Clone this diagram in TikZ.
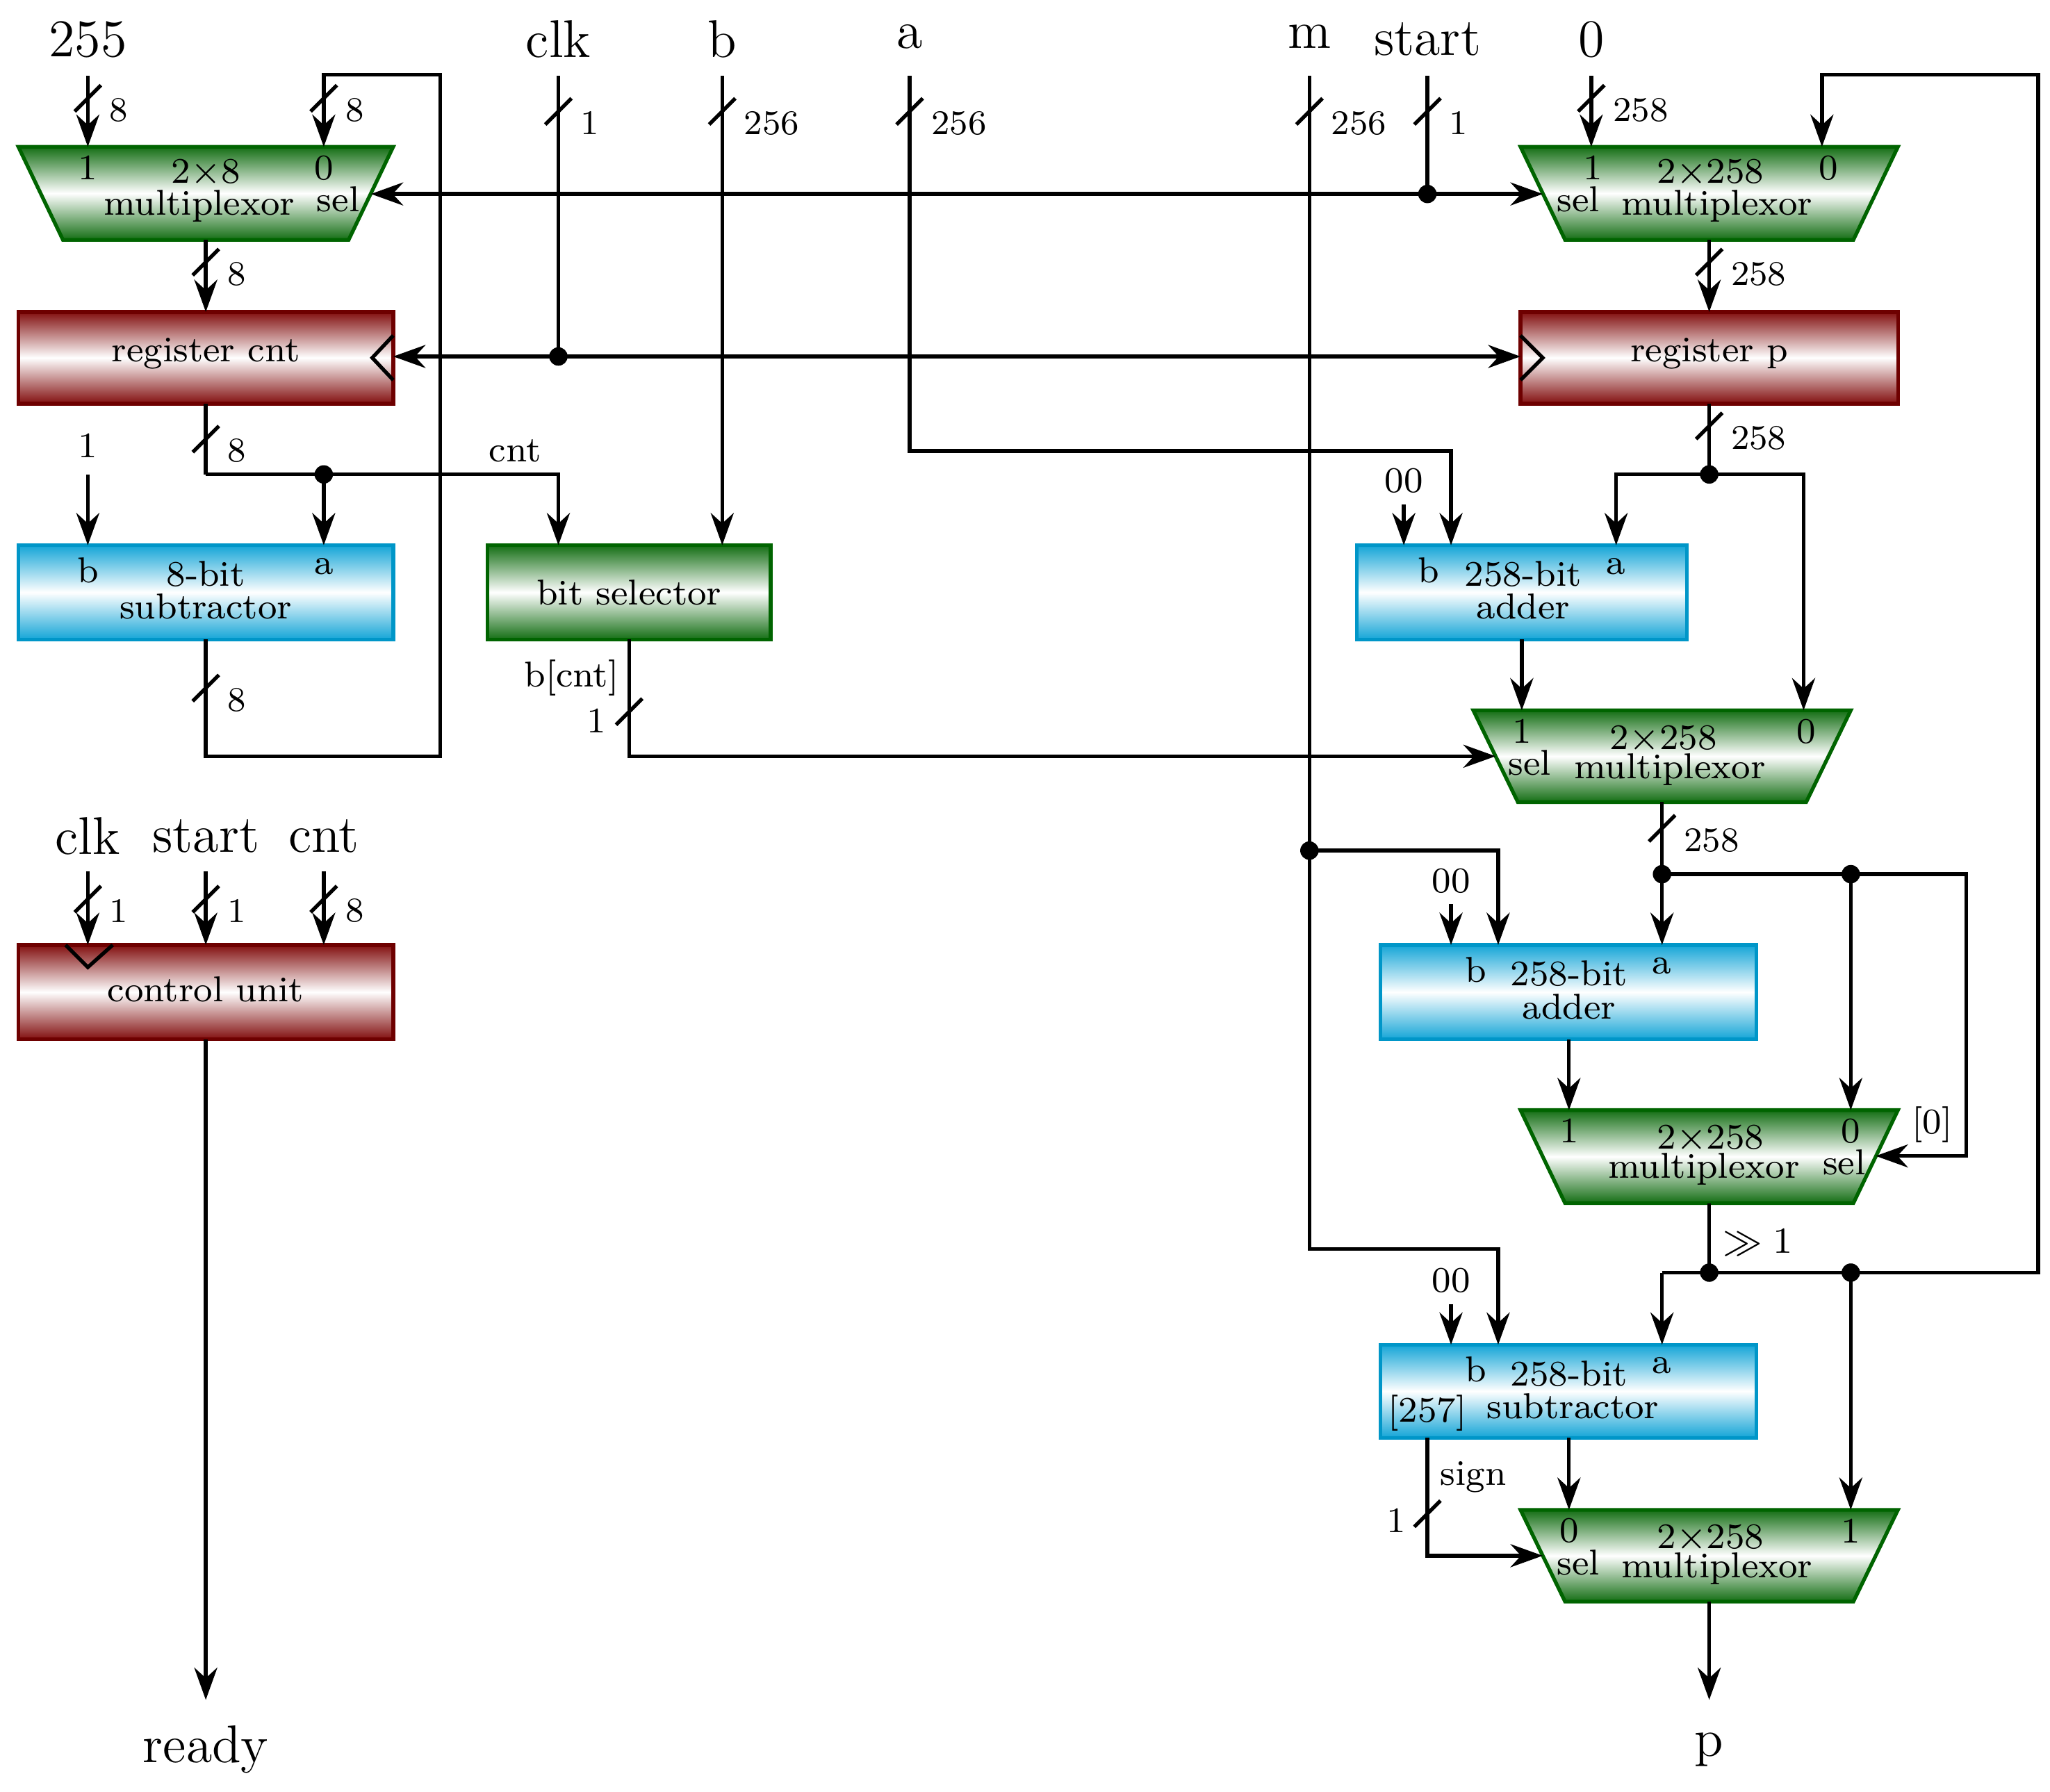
\documentclass[tikz,border=0pt]{standalone}
\usetikzlibrary{arrows.meta}
\definecolor{gdark}{RGB}{20,110,20}
\definecolor{gline}{RGB}{0,100,0}
\definecolor{rdark}{RGB}{130,15,15}
\definecolor{rline}{RGB}{110,0,0}
\definecolor{bdark}{RGB}{20,165,215}
\definecolor{bline}{RGB}{0,150,200}
\tikzset{
  wire/.style={line width=0.8pt},
  arr/.style={wire,-{Stealth[length=7pt,width=5pt]}},
  muxs/.style={draw=gline,line width=0.8pt,top color=gdark,bottom color=gdark,middle color=white},
  regs/.style={draw=rline,line width=0.8pt,top color=rdark,bottom color=rdark,middle color=white},
  alus/.style={draw=bline,line width=0.8pt,top color=bdark,bottom color=bdark,middle color=white},
  txt/.style={font=\fontsize{7.8}{8.5}\selectfont,inner sep=0pt},
  big/.style={font=\fontsize{11.5}{13}\selectfont,inner sep=0pt},
  lbl/.style={font=\fontsize{7.5}{8}\selectfont,inner sep=0pt,anchor=west},
  dot/.style={circle,fill=black,inner sep=0pt,minimum size=4pt}
}
\newcommand{\busmark}[3]{\draw[wire] (#1-10,#2+10)--(#1+10,#2-10);
  \node[lbl] at (#1+16,#2+9) {#3};}
\newcommand{\muxbox}[5]{\draw[muxs] (#2,#4)--(#3,#4)--(#3-34,#5)--(#2+34,#5)--cycle;
  \coordinate (#1) at ({(#2+#3)/2},{(#4+#5)/2});}
\begin{document}
\begin{tikzpicture}[x=0.01cm,y=-0.01cm]
\useasboundingbox (0,0) rectangle (1564,1367);
% blocks
\muxbox{muxcnt}{14}{300}{112}{183}
\node[txt] at (67,128){1}; \node[txt] at (157,132){2$\times$8}; \node[txt] at (247,128){0};
\node[txt] at (152,157){multiplexor}; \node[txt] at (258,152){sel};
\draw[regs] (14,238) rectangle (300,308); \node[txt] (regcnt) at (157,270){register cnt};
\draw[wire] (300,256)--(284,273)--(300,290);
\draw[alus] (14,416) rectangle (300,488);
\node[txt] at (67,435){b}; \node[txt] at (157,438){8-bit}; \node[txt] at (247,432){a};
\node[txt] at (157,463){subtractor};
\draw[muxs] (372,416) rectangle (588,488); \node[txt] (bitsel) at (480,452){bit selector};
\draw[regs] (14,721) rectangle (300,793); \node[txt] (cu) at (157,755){control unit};
\draw[wire] (50,721)--(67,738)--(86,721);
\muxbox{muxp}{1160}{1448}{112}{183}
\node[txt] at (1215,128){1}; \node[txt] at (1305,132){2$\times$258}; \node[txt] at (1395,128){0};
\node[txt] at (1204,152){sel}; \node[txt] at (1310,157){multiplexor};
\draw[regs] (1160,238) rectangle (1448,308); \node[txt] (regp) at (1304,270){register p};
\draw[wire] (1160,256)--(1177,273)--(1160,290);
\draw[alus] (1035,416) rectangle (1287,488);
\node[txt] at (1090,435){b}; \node[txt] at (1162,438){258-bit}; \node[txt] at (1233,432){a};
\node[txt] at (1162,463){adder};
\muxbox{muxa}{1124}{1412}{542}{612}
\node[txt] at (1161,558){1}; \node[txt] at (1269,564){2$\times$258}; \node[txt] at (1378,558){0};
\node[txt] at (1167,582){sel}; \node[txt] at (1274,587){multiplexor};
\draw[alus] (1053,721) rectangle (1340,793);
\node[txt] at (1126,740){b}; \node[txt] at (1197,743){258-bit}; \node[txt] at (1268,737){a};
\node[txt] at (1197,768){adder};
\muxbox{muxb}{1160}{1448}{847}{918}
\node[txt] at (1197,863){1}; \node[txt] at (1305,869){2$\times$258}; \node[txt] at (1412,863){0};
\node[txt] at (1407,887){sel}; \node[txt] at (1300,892){multiplexor};
\draw[alus] (1053,1026) rectangle (1340,1097);
\node[txt] at (1126,1045){b}; \node[txt] at (1197,1048){258-bit}; \node[txt] at (1268,1042){a};
\node[txt] at (1200,1073){subtractor}; \node[txt] at (1089,1078){[257]};
\muxbox{muxc}{1160}{1448}{1152}{1222}
\node[txt] at (1197,1168){0}; \node[txt] at (1305,1174){2$\times$258}; \node[txt] at (1412,1168){1};
\node[txt] at (1204,1192){sel}; \node[txt] at (1310,1197){multiplexor};
% top inputs
\node[big] at (67,30){255}; \node[big] at (426,30){clk}; \node[big] at (551,30){b};
\node[big] at (694,28){a}; \node[big] at (999,28){m}; \node[big] at (1089,30){start};
\node[big] at (1214,30){0};
\draw[arr] (67,58)--(67,112); \busmark{67}{75}{8}
\draw[arr] (157,488)--(157,577)--(336,577)--(336,57)--(247,57)--(247,112); \busmark{247}{75}{8}
\busmark{157}{525}{8}
\draw[arr] (157,183)--(157,238); \busmark{157}{200}{8}
\draw[wire] (426,58)--(426,272); \busmark{426}{85}{1}
\draw[arr] (426,272)--(300,272); \draw[arr] (426,272)--(1160,272);
\node[dot] at (426,272){};
\draw[arr] (551,58)--(551,416); \busmark{551}{85}{256}
\draw[arr] (694,58)--(694,344)--(1107,344)--(1107,416); \busmark{694}{85}{256}
\draw[arr] (999,58)--(999,953)--(1143,953)--(1143,1026); \busmark{999}{85}{256}
\draw[arr] (999,649)--(1143,649)--(1143,721); \node[dot] at (999,649){};
\draw[wire] (1089,58)--(1089,148); \busmark{1089}{85}{1}
\draw[arr] (1089,148)--(283,148); \draw[arr] (1089,148)--(1177,148);
\node[dot] at (1089,148){};
\draw[arr] (1214,58)--(1214,112); \busmark{1214}{75}{258}
\draw[arr] (1304,183)--(1304,238); \busmark{1304}{200}{258}
\draw[wire] (1304,308)--(1304,362); \busmark{1304}{325}{258}
\draw[arr] (1304,362)--(1233,362)--(1233,416);
\draw[arr] (1304,362)--(1376,362)--(1376,542); \node[dot] at (1304,362){};
\node[txt] at (1071,367){00}; \draw[arr] (1071,385)--(1071,416);
\node[txt] at (67,340){1}; \draw[arr] (67,362)--(67,416);
\draw[wire] (157,308)--(157,362); \busmark{157}{335}{8}
\draw[arr] (157,362)--(426,362)--(426,416);
\draw[arr] (247,362)--(247,416); \node[dot] at (247,362){};
\node[txt] at (393,344){cnt};
\draw[arr] (1161,488)--(1161,542);
\draw[arr] (480,488)--(480,577)--(1141,577);
\node[txt] at (436,517){b[cnt]}; \draw[wire] (470,553)--(490,533); \node[txt] at (455,550){1};
\draw[wire] (1268,612)--(1268,667); \busmark{1268}{632}{258}
\draw[arr] (1268,667)--(1268,721); \node[dot] at (1268,667){};
\draw[arr] (1268,667)--(1500,667)--(1500,882)--(1431,882);
\draw[arr] (1412,667)--(1412,847); \node[dot] at (1412,667){};
\node[txt] at (1474,858){[0]};
\node[txt] at (1107,672){00}; \draw[arr] (1107,690)--(1107,721);
\draw[arr] (1197,793)--(1197,847);
% feedback
\draw[wire] (1304,918)--(1304,971); \node[txt,anchor=west] at (1314,948){$\gg 1$};
\draw[arr] (1268,971)--(1268,1026);
\draw[arr] (1268,971)--(1555,971)--(1555,57)--(1390,57)--(1390,112);
\draw[arr] (1412,971)--(1412,1152);
\node[dot] at (1304,971){}; \node[dot] at (1412,971){};
\node[txt] at (1107,977){00}; \draw[arr] (1107,995)--(1107,1026);
\draw[arr] (1197,1097)--(1197,1152);
\draw[arr] (1089,1097)--(1089,1187)--(1177,1187);
\node[txt] at (1124,1127){sign}; \draw[wire] (1079,1165)--(1099,1145); \node[txt] at (1065,1160){1};
\draw[arr] (1304,1222)--(1304,1297); \node[big] at (1304,1335){p};
% control unit
\node[big] at (67,638){clk}; \node[big] at (157,638){start}; \node[big] at (247,638){cnt};
\draw[arr] (67,665)--(67,721); \busmark{67}{686}{1}
\draw[arr] (157,665)--(157,721); \busmark{157}{686}{1}
\draw[arr] (247,665)--(247,721); \busmark{247}{686}{8}
\draw[arr] (157,793)--(157,1297); \node[big] at (157,1335){ready};
\end{tikzpicture}
\end{document}
